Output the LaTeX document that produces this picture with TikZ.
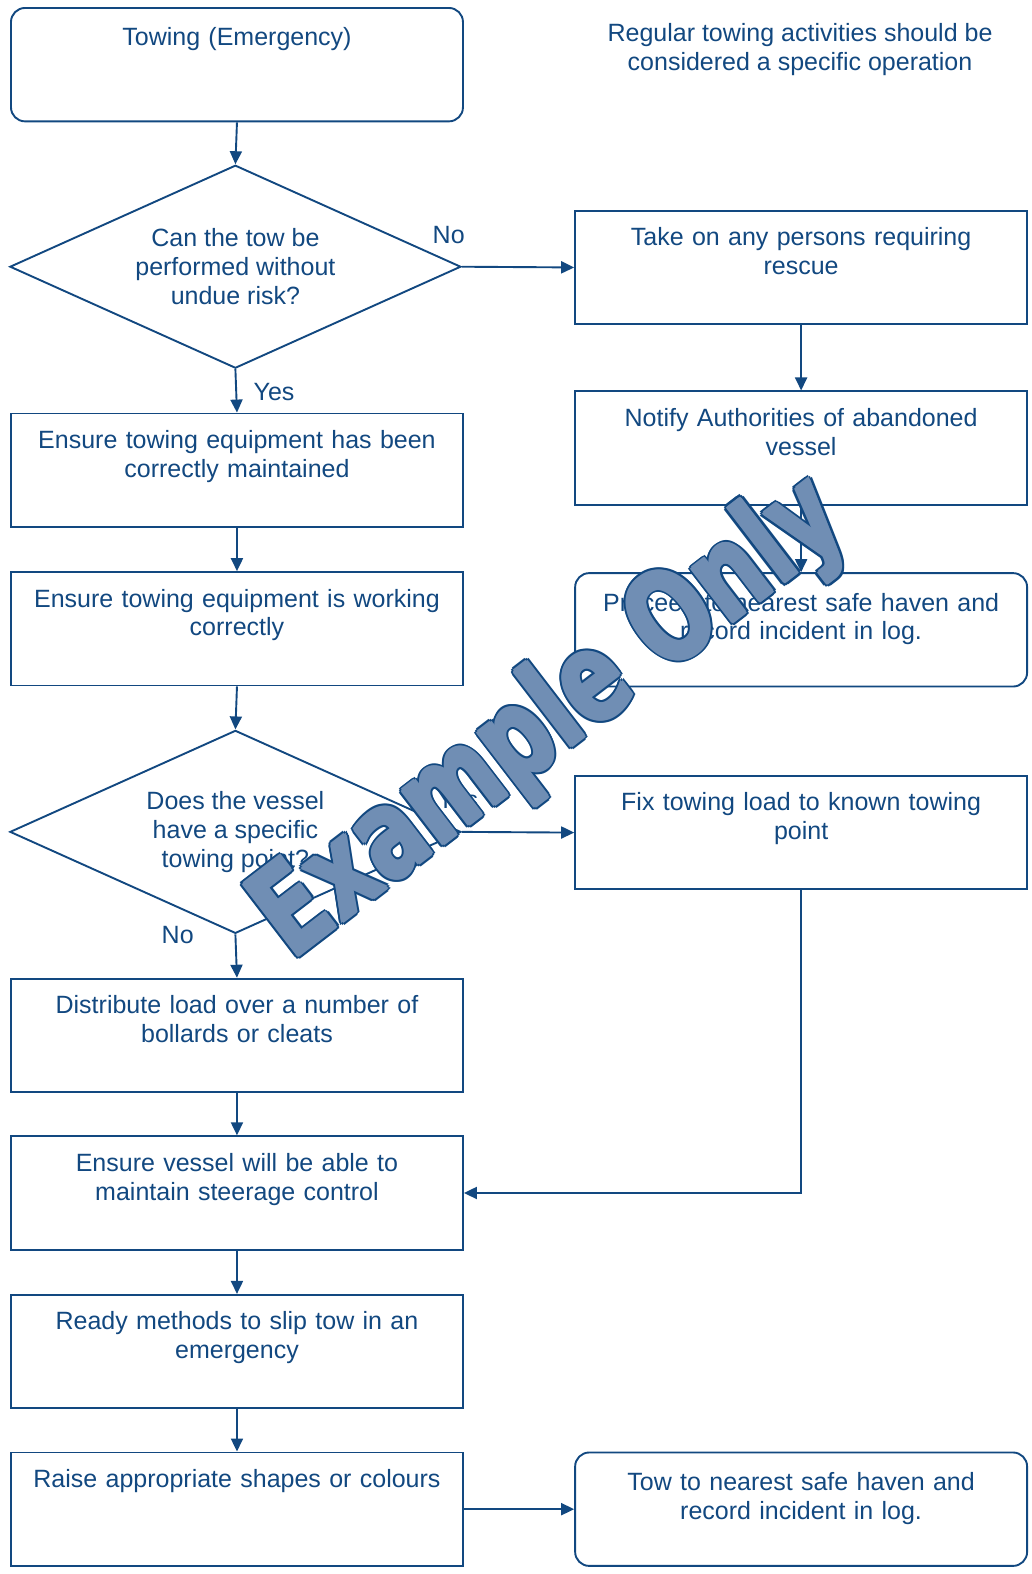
\documentclass[tikz,border=0pt]{standalone}
\usepackage{fontspec}
\setmainfont{Liberation Sans}
\newfontfamily\wmfont{DejaVu Sans}
\usetikzlibrary{shapes.geometric,arrows.meta,calc}
\definecolor{ink}{RGB}{18,72,128}
\definecolor{wmfill}{RGB}{112,142,180}
\begin{document}
\begin{tikzpicture}[x=1.0039pt,y=-1.0039pt,
  every node/.style={text=ink,font=\fontsize{25}{28.8}\selectfont},
  box/.style={draw=ink,line width=1.9pt,rectangle,anchor=north west,
    minimum width=452pt,minimum height=113.4pt,inner sep=0pt,
    text width=446pt,align=center,text height=35pt,text depth=78.4pt},
  rbox/.style={box,rounded corners=14pt,text height=38pt,text depth=75.4pt},
  diam/.style={draw=ink,line width=1.9pt,diamond,aspect=2.2,
    minimum width=451pt,minimum height=203pt,inner sep=0pt,align=center},
  arr/.style={draw=ink,line width=1.9pt,-{Triangle[length=13pt,width=12pt]}},
  lbl/.style={inner sep=0pt},
  wmark/.style={font=\wmfont\bfseries\fontsize{124}{124}\selectfont,
    rotate=37.5,xscale=0.74,transform shape,inner sep=0pt}]
\useasboundingbox (0,0) rectangle (1028,1568);

% left column
\node[rbox] (start) at (10,7) {Towing (Emergency)};
\node[align=center] (note) at (797,49) {Regular towing activities should be\\considered a specific operation};
\node[diam] (q1) at (234.5,265.7) {Can the tow be\\performed without\\undue risk?};
\node[box] (l1) at (10,411) {Ensure towing equipment has been\\correctly maintained};
\node[box] (l2) at (10,569) {Ensure towing equipment is working\\correctly};
\node[diam] (q2) at (234.5,828.7) {Does the vessel\\have a specific\\towing point?};
\node[box] (l3) at (10,974) {Distribute load over a number of\\bollards or cleats};
\node[box] (l4) at (10,1131) {Ensure vessel will be able to\\maintain steerage control};
\node[box] (l5) at (10,1289) {Ready methods to slip tow in an\\emergency};
\node[box] (l6) at (10,1446) {Raise appropriate shapes or colours};

% right column
\node[box] (r1) at (572,209) {Take on any persons requiring\\rescue};
\node[box] (r2) at (572,389) {Notify Authorities of abandoned\\vessel};
\node[rbox] (r3) at (572,570) {Proceed to nearest safe haven and\\record incident in log.};
\node[box] (r4) at (572,772) {Fix towing load to known towing\\point};
\node[rbox] (r5) at (572,1446) {Tow to nearest safe haven and\\record incident in log.};

% connectors
\draw[arr] (start.south) -- (q1.north);
\draw[arr] (q1.east) -- (r1.west);
\node[lbl] (no1) at (447,234) {No};
\draw[arr] (r1.south) -- (r2.north);
\draw[arr] (r2.south) -- (r3.north);
\draw[arr] (q1.south) -- (l1.north);
\node[lbl] (yes1) at (273,391) {Yes};
\draw[arr] (l1.south) -- (l2.north);
\draw[arr] (l2.south) -- (q2.north);
\draw[arr] (q2.east) -- (r4.west);
\node[lbl] (yes2) at (456,797) {Yes};
\draw[arr] (q2.south) -- (l3.north);
\node[lbl] (no2) at (177,931) {No};
\draw[arr] (l3.south) -- (l4.north);
\draw[arr] (r4.south) |- (l4.east);
\draw[arr] (l4.south) -- (l5.north);
\draw[arr] (l5.south) -- (l6.north);
\draw[arr] (l6.east) -- (r5.west);

% watermark: dark rim from offset copies, heavier light fill on top
\coordinate (wmc) at (549,717);
\foreach \a [count=\i] in {0,30,...,330}
  \node[wmark,text=ink] (wmo\i) at ($(wmc)+(\a:3.6pt)$) {Example Only};
\foreach \a [count=\i] in {0,60,...,300}
  \node[wmark,text=wmfill] (wmf\i) at ($(wmc)+(\a:1.6pt)$) {Example Only};
\node[wmark,text=wmfill] (wm) at (wmc) {Example Only};
\end{tikzpicture}
\end{document}
